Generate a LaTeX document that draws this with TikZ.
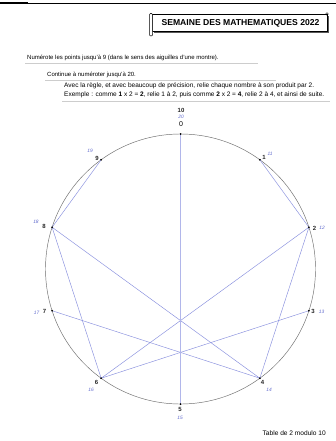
\documentclass[tikz,border=0pt]{standalone}
\usepackage{fontspec}
\setmainfont{Liberation Sans}
\definecolor{hand}{RGB}{95,105,205}
\definecolor{link}{RGB}{135,142,222}
\definecolor{rule}{RGB}{205,205,205}
\begin{document}
\begin{tikzpicture}[x=1pt,y=-1pt,
  txt/.style={font=\fontsize{6}{7}\selectfont, anchor=base west, inner sep=0pt},
  txtb/.style={txt, font=\fontsize{6.5}{7}\selectfont},
  uline/.style={draw=rule, line width=0.5pt},
  blk/.style={font=\fontsize{6}{6}\selectfont\bfseries, inner sep=0pt, text=black!85},
  blu/.style={font=\fontsize{4.8}{5}\selectfont\itshape, inner sep=0pt, text=hand},
  linkline/.style={draw=link, line width=0.45pt},
  dot/.style={fill=black}]
\useasboundingbox (0,0) rectangle (336,441);
\fill[white] (0,0) rectangle (336,441);
% top rule
\draw[line width=0.6pt] (0,3.5) -- (336,3.5);
\draw[line width=1.6pt] (0,3) -- (28,3);
% header scroll
\draw[line width=1.4pt, gray!70!black] (154,32) -- (328.5,32) -- (328.5,16);
\draw[line width=0.5pt, fill=white] (152,14) rectangle (327,31);
\draw[line width=0.5pt, fill=white, rounded corners=1pt] (149.5,13.5) rectangle (152.5,36);
\draw[line width=0.4pt] (327,14) circle[radius=1.3pt];
\node[font=\fontsize{8.6}{10}\selectfont\bfseries, inner sep=0pt] (title) at (240.5,23) {SEMAINE DES MATHEMATIQUES 2022};
% instructions
\draw[uline] (25,63.5) -- (258,63.5);
\node[txt] (l1) at (27,60) {Numérote les points jusqu'à 9 (dans le sens des aiguilles d'une montre).};
\draw[uline] (45,80.5) -- (276,80.5);
\node[txt] (l2) at (47,77) {Continue à numéroter jusqu'à 20.};
\draw[uline] (62,101) -- (330,101);
\node[txtb] (l3) at (64,87.8) {Avec la règle, et avec beaucoup de précision, relie chaque nombre à son produit par 2.};
\node[txtb] (l4) at (64,96.8) {Exemple : comme \textbf{1} x 2 = \textbf{2}, relie 1 à 2, puis comme \textbf{2} x 2 = \textbf{4}, relie 2 à 4, et ainsi de suite.};
% circle
\coordinate (c) at (180.5,269);
\draw[gray!85!black, line width=0.45pt] (c) circle[radius=135pt];
\foreach \i in {0,...,9} {
  \path (c) ++(90-36*\i:135pt) coordinate (p\i);
}
\foreach \a/\b in {1/2,2/4,3/6,4/8,6/2,7/4,8/6,9/8}
  \draw[linkline] (p\a) -- (p\b);
\draw[linkline, draw=link!65] (p5) -- (p0);
\foreach \i in {0,...,9}
  \fill[dot] (p\i) circle[radius=1pt];
% labels
\node[font=\fontsize{7}{8}\selectfont, inner sep=0pt] (n0) at (181,124.5) {0};
\node[blk] (h10) at (181,110.5) {10};
\node[blu] (b20) at (181,117) {20};
\node[blk] (n9) at (97,158) {9};
\node[blu] (b19) at (90,151) {19};
\node[blk] (n1) at (264,157.5) {1};
\node[blu] (b11) at (270,154) {11};
\node[blk] (n8) at (44,226) {8};
\node[blu] (b18) at (36,221.5) {18};
\node[blk] (n2) at (314.5,228) {2};
\node[blu] (b12) at (322,228) {12};
\node[blk] (n7) at (44.5,311) {7};
\node[blu] (b17) at (36.5,312.5) {17};
\node[blk] (n3) at (313,311) {3};
\node[blu] (b13) at (321.5,312) {13};
\node[blk] (n6) at (96.5,382) {6};
\node[blu] (b16) at (91,389.5) {16};
\node[blk] (n4) at (262.5,382) {4};
\node[blu] (b14) at (269,390) {14};
\node[blk] (n5) at (180,409.5) {5};
\node[blu] (b15) at (180,417.5) {15};
% caption
\node[font=\fontsize{6.6}{8}\selectfont, inner sep=0pt, anchor=base east] (cap) at (326,435) {Table de 2 modulo 10};
\end{tikzpicture}
\end{document}
